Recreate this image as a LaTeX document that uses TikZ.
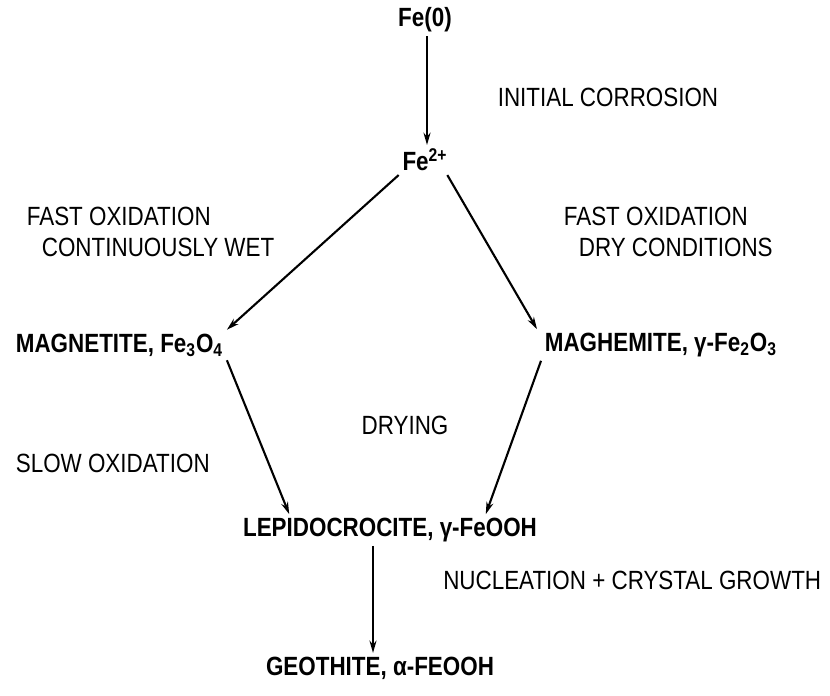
\documentclass[tikz,border=0pt]{standalone}
\usepackage{fontspec}
\setmainfont{Liberation Sans}[FakeStretch=0.85]
\usetikzlibrary{arrows.meta, calc, positioning}

\begin{document}
\begin{tikzpicture}[
  every node/.style={font=\fontsize{15}{18}\selectfont, text=black, inner sep=2pt},
  flow/.style={-{Stealth[length=7pt, width=4pt]}, line width=1.2pt},
  phase/.style={font=\fontsize{15}{18}\selectfont\bfseries},
  cond/.style={align=left, anchor=west}
]
\useasboundingbox (0,0) rectangle (16.6,-13.9);

% iron and the first product
\node[phase] (fe0) at (8.5,-0.4) {Fe(0)};
\node[phase] (fe2) at (8.5,-3.2) {Fe\textsuperscript{2+}};
\node (corr) at (12.16,-1.94) {INITIAL CORROSION};

% the two oxides
\node[phase, anchor=west] (magn) at (0.24,-6.9)
  {MAGNETITE, Fe\textsubscript{3}O\textsubscript{4}};
\node[phase, anchor=west] (magh) at (10.82,-6.9)
  {MAGHEMITE, γ-Fe\textsubscript{2}O\textsubscript{3}};
\node[cond] (wet) at (0.46,-4.64)
  {FAST OXIDATION\\\hspace*{0.3cm}CONTINUOUSLY WET};
\node[cond] (dry) at (11.2,-4.64)
  {FAST OXIDATION\\\hspace*{0.3cm}DRY CONDITIONS};

% oxyhydroxides
\node[phase] (lepi) at (7.8,-10.6) {LEPIDOCROCITE, γ-FeOOH};
\node[phase] (geo) at (7.6,-13.36) {GEOTHITE, α-FEOOH};
\node (drying) at (8.1,-8.5) {DRYING};
\node[anchor=west] (slow) at (0.24,-9.26) {SLOW OXIDATION};
\node[anchor=east] (nucl) at (16.5,-11.6) {NUCLEATION + CRYSTAL GROWTH};

% reaction arrows
\draw[flow] ([xshift=0.04cm]fe0.south) -- ([xshift=0.04cm]fe2.north);
\draw[flow] (fe2.south west) -- (magn.north east);
\draw[flow] ([xshift=-0.08cm]fe2.south east) -- ([xshift=-0.08cm]magh.north west);
\draw[flow] (magn.south east) -- ([xshift=1cm]lepi.north west);
\draw[flow] (magh.south west) -- ([xshift=-1.1cm]lepi.north east);
\draw[flow] ([xshift=-0.34cm]lepi.south) -- ([xshift=-0.34cm]lepi.south |- geo.north);

\end{tikzpicture}
\end{document}
